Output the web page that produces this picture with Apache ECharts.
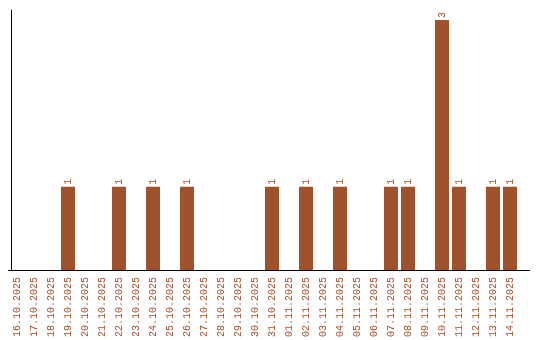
<!DOCTYPE html>
<html><head><meta charset="utf-8">
<script src="https://cdn.jsdelivr.net/npm/echarts@6/dist/echarts.min.js"></script>
<style>html,body{margin:0;padding:0;background:#fff}#c{width:540px;height:340px}</style>
</head><body><div id="c"></div>
<script>
const categories = ["16.10.2025","17.10.2025","18.10.2025","19.10.2025","20.10.2025","21.10.2025","22.10.2025","23.10.2025","24.10.2025","25.10.2025","26.10.2025","27.10.2025","28.10.2025","29.10.2025","30.10.2025","31.10.2025","01.11.2025","02.11.2025","03.11.2025","04.11.2025","05.11.2025","06.11.2025","07.11.2025","08.11.2025","09.11.2025","10.11.2025","11.11.2025","12.11.2025","13.11.2025","14.11.2025"];
const values = [0,0,0,1,0,0,1,0,1,0,1,0,0,0,0,1,0,1,0,1,0,0,1,1,0,3,1,0,1,1];
const color = '#A0522D';
const chart = echarts.init(document.getElementById('c'));
chart.setOption({
  animation: false,
  grid: {left: 8.5, top: 10, width: 510, height: 260, containLabel: false},
  xAxis: {
    type: 'category', data: categories,
    axisLine: {lineStyle: {color: '#000', width: 1}},
    axisTick: {show: false},
    axisLabel: {rotate: 90, interval: 0, color: color, fontFamily: 'Liberation Mono', fontSize: 10, margin: 7}
  },
  yAxis: {
    type: 'value', min: 0, max: 3.12, offset: -2.5,
    axisLine: {show: true, lineStyle: {color: '#000', width: 1}},
    axisTick: {show: false}, axisLabel: {show: false}, splitLine: {show: false}
  },
  graphic: [{type: 'line', shape: {x1: 518, y1: 270.5, x2: 530, y2: 270.5}, style: {stroke: '#000', lineWidth: 1}}],
  series: [{
    type: 'bar', data: values.map(v => v === 0 ? null : v), barWidth: 14,
    itemStyle: {color: color},
    label: {show: true, position: 'top', rotate: 90, align: 'left', verticalAlign: 'middle', distance: 2,
      color: color, fontFamily: 'Liberation Mono', fontSize: 10}
  }]
});
</script></body></html>
